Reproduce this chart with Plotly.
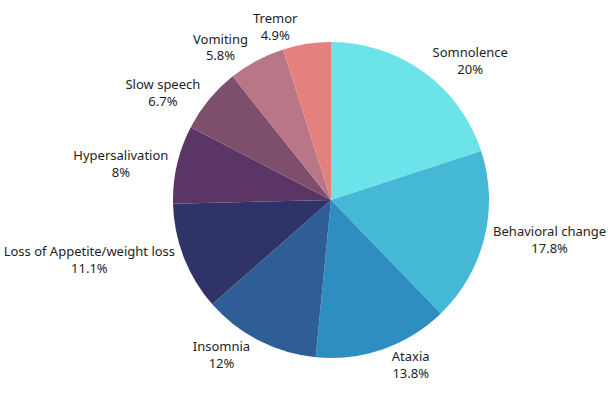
import plotly.graph_objects as go

labels = ["Somnolence", "Behavioral change", "Ataxia", "Insomnia",
          "Loss of Appetite/weight loss", "Hypersalivation", "Slow speech",
          "Vomiting", "Tremor"]
values = [20, 17.8, 13.8, 12, 11.1, 8, 6.7, 5.8, 4.9]
colors = ["#6BE3E9", "#45B8D6", "#2E8EBF", "#2F5E97", "#2F3367",
          "#5A3566", "#7E4E6D", "#B87686", "#E4817F"]

# labels drawn by the main pie (all but the last small slice, whose label is
# drawn by an overlay pie so that it is not pushed away from its slice)
main_pos = ["outside"] * (len(labels) - 1) + ["none"]
overlay_pos = ["none"] * (len(labels) - 1) + ["outside"]

common = dict(
    labels=labels,
    values=values,
    sort=False,
    direction="clockwise",
    rotation=0,
    automargin=False,
    texttemplate="%{label}<br>%{value}%",
    textfont=dict(family="Noto Sans", size=13, color="#1E1E1E"),
    showlegend=False,
)

fig = go.Figure()
fig.add_trace(go.Pie(
    marker=dict(colors=colors, line=dict(width=0)),
    textposition=main_pos,
    hoverinfo="label+value",
    **common,
))
fig.add_trace(go.Pie(
    marker=dict(colors=["rgba(0,0,0,0)"] * len(labels), line=dict(width=0)),
    textposition=overlay_pos,
    hoverinfo="skip",
    **common,
))

fig.update_layout(
    width=608, height=397,
    margin=dict(l=54, r=0, t=42, b=39, autoexpand=False),
    paper_bgcolor="white",
    plot_bgcolor="white",
)

fig.write_html("out.html")
